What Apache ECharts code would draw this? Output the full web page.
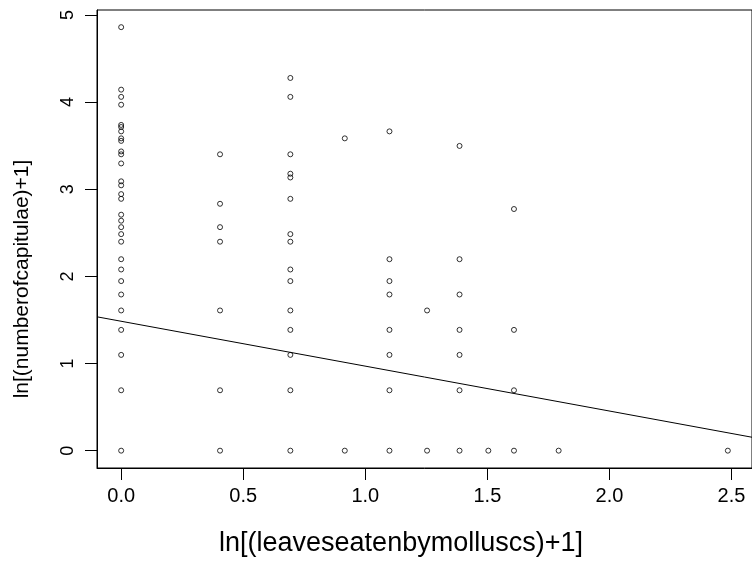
<!DOCTYPE html>
<html>
<head>
<meta charset="utf-8">
<script src="https://cdn.jsdelivr.net/npm/echarts@6/dist/echarts.min.js"></script>
<style>html,body{margin:0;padding:0;background:#fff}#c{width:752px;height:562px}</style>
</head>
<body>
<div id="c"></div>
<script>
// ln[(leaves eaten by molluscs)+1]  and  ln[(number of capitulae)+1]
const col0 = [4.860, 4.143, 4.060, 3.970, 3.738, 3.714, 3.664, 3.584, 3.555, 3.434, 3.401, 3.296, 3.091, 3.045, 2.944, 2.890, 2.708, 2.639, 2.565, 2.485, 2.398, 2.197, 2.079, 1.946, 1.792, 1.609, 1.386, 1.099, 0.693, 0];
const col0405 = [3.401, 2.833, 2.565, 2.398, 1.609, 0.693, 0];
const col0693 = [4.277, 4.060, 3.401, 3.178, 3.135, 2.890, 2.485, 2.398, 2.079, 1.946, 1.609, 1.386, 1.099, 0.693, 0];
const col0916 = [3.584, 0];
const col1099 = [3.664, 2.197, 1.946, 1.792, 1.386, 1.099, 0.693, 0];
const col1253 = [1.609, 0];
const col1386 = [3.497, 2.197, 1.792, 1.386, 1.099, 0.693, 0];
const col1504 = [0];
const col1609 = [2.773, 1.386, 0.693, 0];
const col1792 = [0];
const col2485 = [0];
const xLevels = [0, 0.405, 0.693, 0.916, 1.099, 1.253, 1.386, 1.504, 1.609, 1.792, 2.485];
const yColumns = [col0, col0405, col0693, col0916, col1099, col1253, col1386, col1504, col1609, col1792, col2485];
// fitted regression line endpoints (spanning the plot region)
const fitX = [-0.099, 2.584];
const fitY = [1.536, 0.154];
const xTicks = [0, 0.5, 1.0, 1.5, 2.0, 2.5];
const yTicks = [0, 1, 2, 3, 4, 5];

const points = [];
xLevels.forEach((x, i) => yColumns[i].forEach(y => points.push([x, y])));
const fitLine = fitX.map((x, i) => [x, fitY[i]]);

const font = 'Liberation Sans, Arial, Helvetica, sans-serif';
const chart = echarts.init(document.getElementById('c'), null, {renderer: 'canvas'});
chart.setOption({
  animation: false,
  backgroundColor: '#fff',
  grid: {left: 97, top: 10, width: 660, height: 462, show: true, borderColor: '#000', borderWidth: 1, backgroundColor: 'transparent'},
  xAxis: {
    type: 'value', min: -0.099, max: 2.584,
    splitLine: {show: false},
    axisLine: {show: true, onZero: false, lineStyle: {color: '#000', width: 1}},
    axisTick: {show: true, inside: false, length: 12, lineStyle: {color: '#000'}, customValues: xTicks},
    axisLabel: {show: true, customValues: xTicks, margin: 18, fontSize: 20, color: '#000', fontFamily: font,
      formatter: v => Number(v).toFixed(1)},
    name: 'ln[(leaveseatenbymolluscs)+1]', nameLocation: 'middle', nameGap: 62,
    nameTextStyle: {fontSize: 27, color: '#000', fontFamily: font, verticalAlign: 'top', padding: [0, 47, 0, 0]}
  },
  yAxis: {
    type: 'value', min: -0.199, max: 5.057,
    splitLine: {show: false},
    axisLine: {show: true, onZero: false, lineStyle: {color: '#000', width: 1}},
    axisTick: {show: true, inside: false, length: 12, lineStyle: {color: '#000'}, customValues: yTicks},
    axisLabel: {show: true, customValues: yTicks, rotate: 90, margin: 20, fontSize: 18, color: '#000', fontFamily: font,
      formatter: v => String(Math.round(v))},
    name: 'ln[(numberofcapitulae)+1]', nameLocation: 'middle', nameRotate: 90, nameGap: 64,
    nameTextStyle: {fontSize: 21, color: '#000', fontFamily: font, padding: [0, 80, 0, 0]}
  },
  series: [
    {type: 'scatter', data: points, symbol: 'circle', symbolSize: 5,
      itemStyle: {color: 'transparent', borderColor: '#000', borderWidth: 1}, silent: true},
    {type: 'line', data: fitLine, symbol: 'none', lineStyle: {color: '#000', width: 1}, silent: true, z: 1}
  ]
});
</script>
</body>
</html>
